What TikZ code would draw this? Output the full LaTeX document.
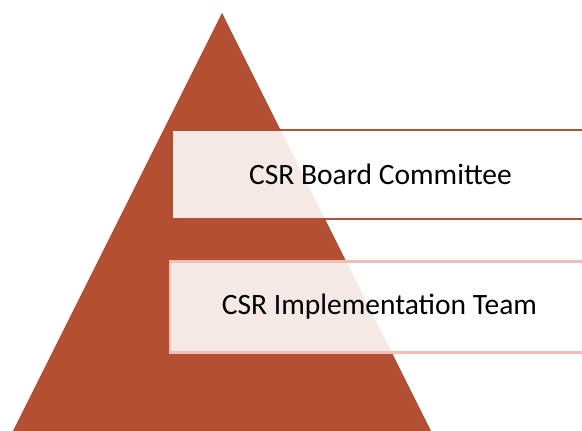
\documentclass[tikz,border=0pt]{standalone}
\usepackage{fontspec}
\setmainfont{Carlito}
\usetikzlibrary{calc}
\usetikzlibrary{positioning}

\definecolor{pyrabrown}{RGB}{179,80,51}
\definecolor{levelpink}{RGB}{244,189,181}

\tikzset{
  level/.style = {rectangle, fill=white, fill opacity=0.88, text opacity=1,
                  line width=2.2pt, inner sep=0pt, minimum width=417,
                  minimum height=89, font=\fontsize{29.5}{34}\selectfont}
}

\begin{document}
\begin{tikzpicture}[x=1pt,y=1pt]
      \useasboundingbox (0,0) rectangle (582,431);
      \clip (0,0) rectangle (582,431);

      \coordinate (A) at (13,0);
      \coordinate (B) at (431,0);
      \coordinate (P) at (222,418);
      \fill[pyrabrown] (A) -- (B) -- (P) -- cycle;

      \node[level, draw=pyrabrown] (board) at (380.5,256.5) {CSR Board Committee};
      \node[level, draw=levelpink, minimum height=91, minimum width=419]
        (team) at (379.5,124) {CSR Implementation Team};
    \end{tikzpicture}
\end{document}
